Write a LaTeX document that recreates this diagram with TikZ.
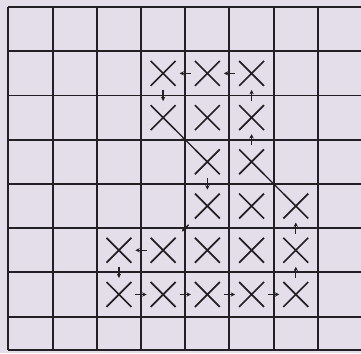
\documentclass[tikz,border=0pt]{standalone}
\usepackage{tikz}
\usetikzlibrary{arrows.meta, shapes.misc, decorations.markings}
\definecolor{gpaper}{HTML}{E4DEEA}
\definecolor{gink}{HTML}{222024}
\tikzset{
  gridline/.style={draw=gink, line width=1.5pt},
  xmark/.style={cross out, draw=gink, line width=1.3pt, inner sep=0pt,
                minimum size=0.63cm},
  link/.style={-{Stealth[length=3.4pt,width=3.4pt]}, gink, line width=1pt,
               shorten <=0.11cm, shorten >=0.11cm},
  dlink/.style={gink, line width=1pt, postaction={decorate},
                decoration={markings, mark=at position 0.55 with
                {\arrow{Stealth[length=3.8pt,width=3.6pt]}}}},
}

\begin{document}
\begin{tikzpicture}[x=1.2cm, y=1.2cm]
  \useasboundingbox[fill=gpaper] (-0.19,0.16) rectangle (7.975,-7.83);

  %% Gitter
  \foreach \i in {0,...,7}
    \draw[gridline] (\i,0) -- (\i,-7.75);
  \foreach \j in {0,...,7}
    \draw[gridline] (0,-\j) -- (7.975,-\j);
  \draw[gridline] (0,-7.75) -- (7.975,-7.75);

  %% Row 2
  \node[xmark] (x24) at (3.5,-1.5) {};
  \node[xmark] (x25) at (4.5,-1.5) {};
  \node[xmark] (x26) at (5.5,-1.5) {};
  %% Row 3
  \node[xmark] (x34) at (3.5,-2.5) {};
  \node[xmark] (x35) at (4.5,-2.5) {};
  \node[xmark] (x36) at (5.5,-2.5) {};
  %% Row 4
  \node[xmark] (x45) at (4.5,-3.5) {};
  \node[xmark] (x46) at (5.5,-3.5) {};
  %% Row 5
  \node[xmark] (x55) at (4.5,-4.5) {};
  \node[xmark] (x56) at (5.5,-4.5) {};
  \node[xmark] (x57) at (6.5,-4.5) {};
  %% Row 6
  \node[xmark] (x63) at (2.5,-5.5) {};
  \node[xmark] (x64) at (3.5,-5.5) {};
  \node[xmark] (x65) at (4.5,-5.5) {};
  \node[xmark] (x66) at (5.5,-5.5) {};
  \node[xmark] (x67) at (6.5,-5.5) {};
  %% Row 7
  \node[xmark] (x73) at (2.5,-6.5) {};
  \node[xmark] (x74) at (3.5,-6.5) {};
  \node[xmark] (x75) at (4.5,-6.5) {};
  \node[xmark] (x76) at (5.5,-6.5) {};
  \node[xmark] (x77) at (6.5,-6.5) {};

  %% Weg
  \draw[link] (x26) -- (x25);
  \draw[link] (x25) -- (x24);
  \draw[link] (x24) -- (x34);
  \draw[dlink] (x34) -- (x45);
  \draw[link] (x45) -- (x55);
  \draw[link, shorten <=0.24cm, shorten >=0.24cm] (x55) -- (x64);
  \draw[link] (x64) -- (x63);
  \draw[link] (x63) -- (x73);
  \draw[link] (x73) -- (x74);
  \draw[link] (x74) -- (x75);
  \draw[link] (x75) -- (x76);
  \draw[link] (x76) -- (x77);
  \draw[link] (x77) -- (x67);
  \draw[link] (x67) -- (x57);
  \draw[dlink] (x57) -- (x46);
  \draw[link] (x46) -- (x36);
  \draw[link] (x36) -- (x26);

\end{tikzpicture}
\end{document}
